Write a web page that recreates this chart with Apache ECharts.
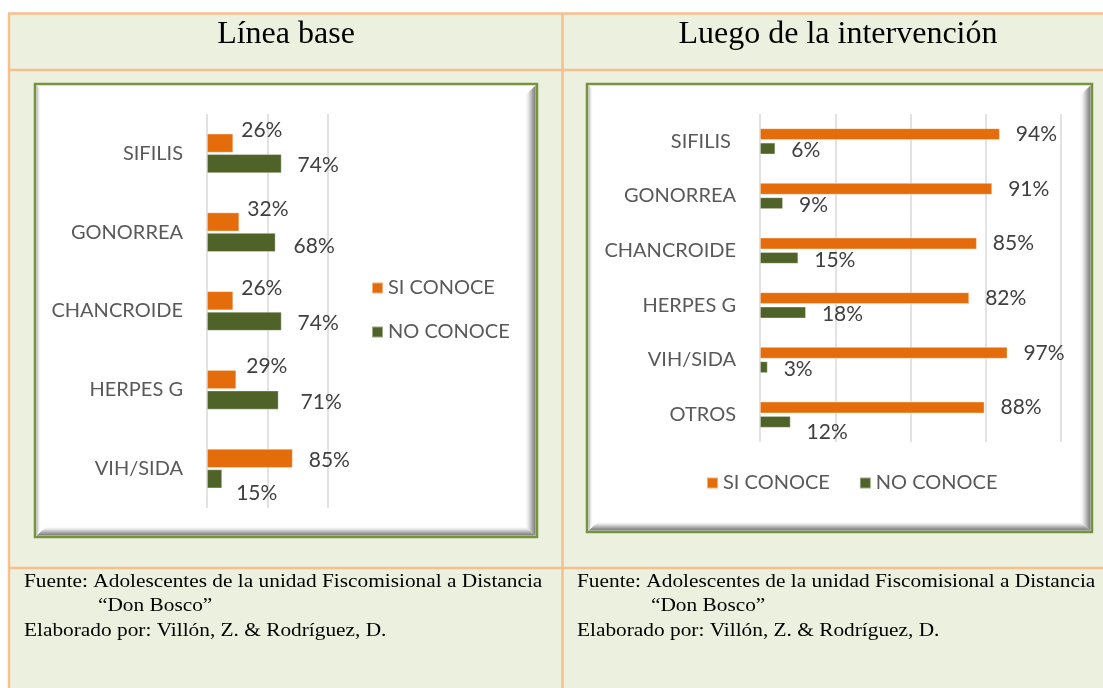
<!DOCTYPE html>
<html><head><meta charset="utf-8">
<script src="https://cdn.jsdelivr.net/npm/echarts@6/dist/echarts.min.js"></script>
<style>html,body{margin:0;padding:0;background:#fff}#c{width:1103px;height:688px}</style>
</head><body><div id="c"></div><script>
// ---- data ----
const leftCategories = ['SIFILIS', 'GONORREA', 'CHANCROIDE', 'HERPES G', 'VIH/SIDA'];
const leftSiConoce = [0.26, 0.32, 0.26, 0.29, 0.85];
const leftNoConoce = [0.74, 0.68, 0.74, 0.71, 0.15];
const rightCategories = ['SIFILIS ', 'GONORREA', 'CHANCROIDE', 'HERPES G', 'VIH/SIDA', 'OTROS'];
const rightSiConoce = [0.94, 0.91, 0.85, 0.82, 0.97, 0.88];
const rightNoConoce = [0.06, 0.09, 0.15, 0.18, 0.03, 0.12];
const seriesNames = ['SI CONOCE', 'NO CONOCE'];
const titles = ['Línea base', 'Luego de la intervención'];
const sourceLines = ['Fuente: Adolescentes de la unidad Fiscomisional a Distancia', '\u201CDon Bosco\u201D', 'Elaborado por: Villón, Z. & Rodríguez, D.'];

// ---- style ----
const ORANGE = '#E46C0A', GREEN = '#4F6228';
const FONT = 'Lato';
const leftSiLabelOffset = [[-8, -13], [-8, -13], [-8, -13], [-6, -13], [0, 2]];
const leftNoLabelOffset = [[0, 2], [2, 4], [0, 2], [6, 2], [-2, 14]];
const rightNoLabelOffset = [[0, 2], [0, 2], [0, 2], [0, 2], [0, 2], [0, 10]];

const pct = p => Math.round(p.value * 100) + '%';
function items(values, offsets) {
  return values.map((v, i) => offsets ? { value: v, label: { offset: offsets[i] } } : v);
}
const labelBase = { show: true, position: 'right', distance: 16, color: '#404040', fontFamily: FONT, fontSize: 21, formatter: pct };

function grad(x0, y0, x1, y1, stops) {
  return new echarts.graphic.LinearGradient(x0, y0, x1, y1, stops.map(s => ({ offset: s[0], color: s[1] })));
}
function box(x0, y0, x1, y1) {
  return [
    { type: 'rect', z: -9, shape: { x: x0, y: y0, width: x1 - x0, height: y1 - y0 }, style: { fill: '#fff', stroke: '#77933C', lineWidth: 2.5 } },
    { type: 'polygon', z: -8, shape: { points: [[x1 - 1.5, y0 + 1.5], [x1 - 1.5, y1 - 1.5], [x1 - 13, y1 - 11], [x1 - 13, y0 + 12]] },
      style: { fill: grad(0, 0, 1, 0, [[0, 'rgba(255,255,255,0)'], [0.6, 'rgba(190,190,190,1)'], [0.9, '#8a8a8a'], [1, '#6e6e6e']]) } },
    { type: 'polygon', z: -8, shape: { points: [[x0 + 1.5, y1 - 1.5], [x1 - 1.5, y1 - 1.5], [x1 - 13, y1 - 11], [x0 + 12, y1 - 11]] },
      style: { fill: grad(0, 0, 0, 1, [[0, 'rgba(255,255,255,0)'], [0.5, 'rgba(200,200,200,1)'], [0.85, '#8f8f8f'], [1, '#777']]) } },
    { type: 'polygon', z: -8, shape: { points: [[x0 + 1.5, y0 + 1.5], [x0 + 1.5, y1 - 1.5], [x0 + 6, y1 - 9], [x0 + 6, y0 + 5]] },
      style: { fill: grad(0, 0, 1, 0, [[0, 'rgba(170,170,170,1)'], [1, 'rgba(255,255,255,0)']]) } }
  ];
}
const LINE = '#F7BE8E';
const graphics = [
  { type: 'rect', z: -12, shape: { x: 8, y: 13, width: 1103, height: 700 }, style: { fill: '#EBF1DE' } },
  { type: 'line', z: -11, shape: { x1: 8, y1: 13.5, x2: 1103, y2: 13.5 }, style: { stroke: LINE, lineWidth: 2.5 } },
  { type: 'line', z: -11, shape: { x1: 8, y1: 70, x2: 1103, y2: 70 }, style: { stroke: LINE, lineWidth: 2.5 } },
  { type: 'line', z: -11, shape: { x1: 8, y1: 568, x2: 1103, y2: 568 }, style: { stroke: LINE, lineWidth: 2.5 } },
  { type: 'line', z: -11, shape: { x1: 9, y1: 13, x2: 9, y2: 688 }, style: { stroke: LINE, lineWidth: 2.5 } },
  { type: 'line', z: -11, shape: { x1: 562.5, y1: 13, x2: 562.5, y2: 688 }, style: { stroke: LINE, lineWidth: 2.5 } },
  ...box(35, 84, 537, 537),
  ...box(587, 84, 1092, 532),
  { type: 'text', x: 286, y: 35, style: { text: titles[0], fontFamily: 'Liberation Serif', fontSize: 32, fill: '#000', align: 'center', verticalAlign: 'middle' } },
  { type: 'text', x: 838, y: 35, style: { text: titles[1], fontFamily: 'Liberation Serif', fontSize: 32, fill: '#000', align: 'center', verticalAlign: 'middle' } }
];
const SRC_SCALE = 1.185;
[24, 577].forEach(x0 => {
  const base = { fontFamily: 'Liberation Serif', fontSize: 18, fill: '#000', align: 'left', verticalAlign: 'bottom' };
  graphics.push({ type: 'text', x: x0, y: 591, scaleX: SRC_SCALE, style: Object.assign({ text: sourceLines[0] }, base) });
  graphics.push({ type: 'text', x: x0 + 74, y: 615, scaleX: SRC_SCALE, style: Object.assign({ text: sourceLines[1] }, base) });
  graphics.push({ type: 'text', x: x0, y: 640, scaleX: SRC_SCALE, style: Object.assign({ text: sourceLines[2] }, base) });
});

const catAxis = (idx, data) => ({
  type: 'category', gridIndex: idx, data, inverse: true,
  axisLine: { show: false }, axisTick: { show: false },
  axisLabel: { color: '#595959', fontFamily: FONT, fontSize: 20, margin: 24 }
});
const valAxis = (idx, max, interval) => ({
  type: 'value', gridIndex: idx, min: 0, max, interval,
  axisLabel: { show: false }, axisLine: { show: false }, axisTick: { show: false },
  splitLine: { show: true, lineStyle: { color: '#D9D9D9', width: 1.5 } }
});
const barBorder = { borderColor: 'rgba(255,255,255,0.45)', borderWidth: 0.8 };
const legendText = { color: '#595959', fontFamily: FONT, fontSize: 20 };

const option = {
  animation: false,
  textStyle: { fontFamily: FONT },
  graphic: { elements: graphics },
  grid: [
    { left: 207, top: 114, width: 121, height: 394, containLabel: false },
    { left: 760, top: 114, width: 301, height: 328, containLabel: false }
  ],
  yAxis: [catAxis(0, leftCategories), catAxis(1, rightCategories)],
  xAxis: [valAxis(0, 1.2, 0.6), valAxis(1, 1.18, 0.295)],
  legend: [
    { orient: 'vertical', left: 366, top: 273, itemWidth: 11, itemHeight: 11, itemGap: 24, icon: 'rect', data: seriesNames, textStyle: legendText },
    { orient: 'horizontal', left: 701, top: 468, itemWidth: 11, itemHeight: 11, itemGap: 29, icon: 'rect', data: seriesNames, textStyle: legendText }
  ],
  series: [
    { name: seriesNames[0], type: 'bar', xAxisIndex: 0, yAxisIndex: 0, data: items(leftSiConoce, leftSiLabelOffset), barWidth: 19, barGap: '8%',
      itemStyle: Object.assign({ color: ORANGE }, barBorder), label: Object.assign({}, labelBase) },
    { name: seriesNames[1], type: 'bar', xAxisIndex: 0, yAxisIndex: 0, data: items(leftNoConoce, leftNoLabelOffset), barWidth: 19, barGap: '8%',
      itemStyle: Object.assign({ color: GREEN }, barBorder), label: Object.assign({}, labelBase) },
    { name: seriesNames[0], type: 'bar', xAxisIndex: 1, yAxisIndex: 1, data: rightSiConoce, barWidth: 11.7, barGap: '23%',
      itemStyle: Object.assign({ color: ORANGE }, barBorder), label: Object.assign({}, labelBase) },
    { name: seriesNames[1], type: 'bar', xAxisIndex: 1, yAxisIndex: 1, data: items(rightNoConoce, rightNoLabelOffset), barWidth: 11.7, barGap: '23%',
      itemStyle: Object.assign({ color: GREEN }, barBorder), label: Object.assign({}, labelBase) }
  ]
};
const chart = echarts.init(document.getElementById('c'), null, { renderer: 'canvas' });
chart.setOption(option);
</script></body></html>
